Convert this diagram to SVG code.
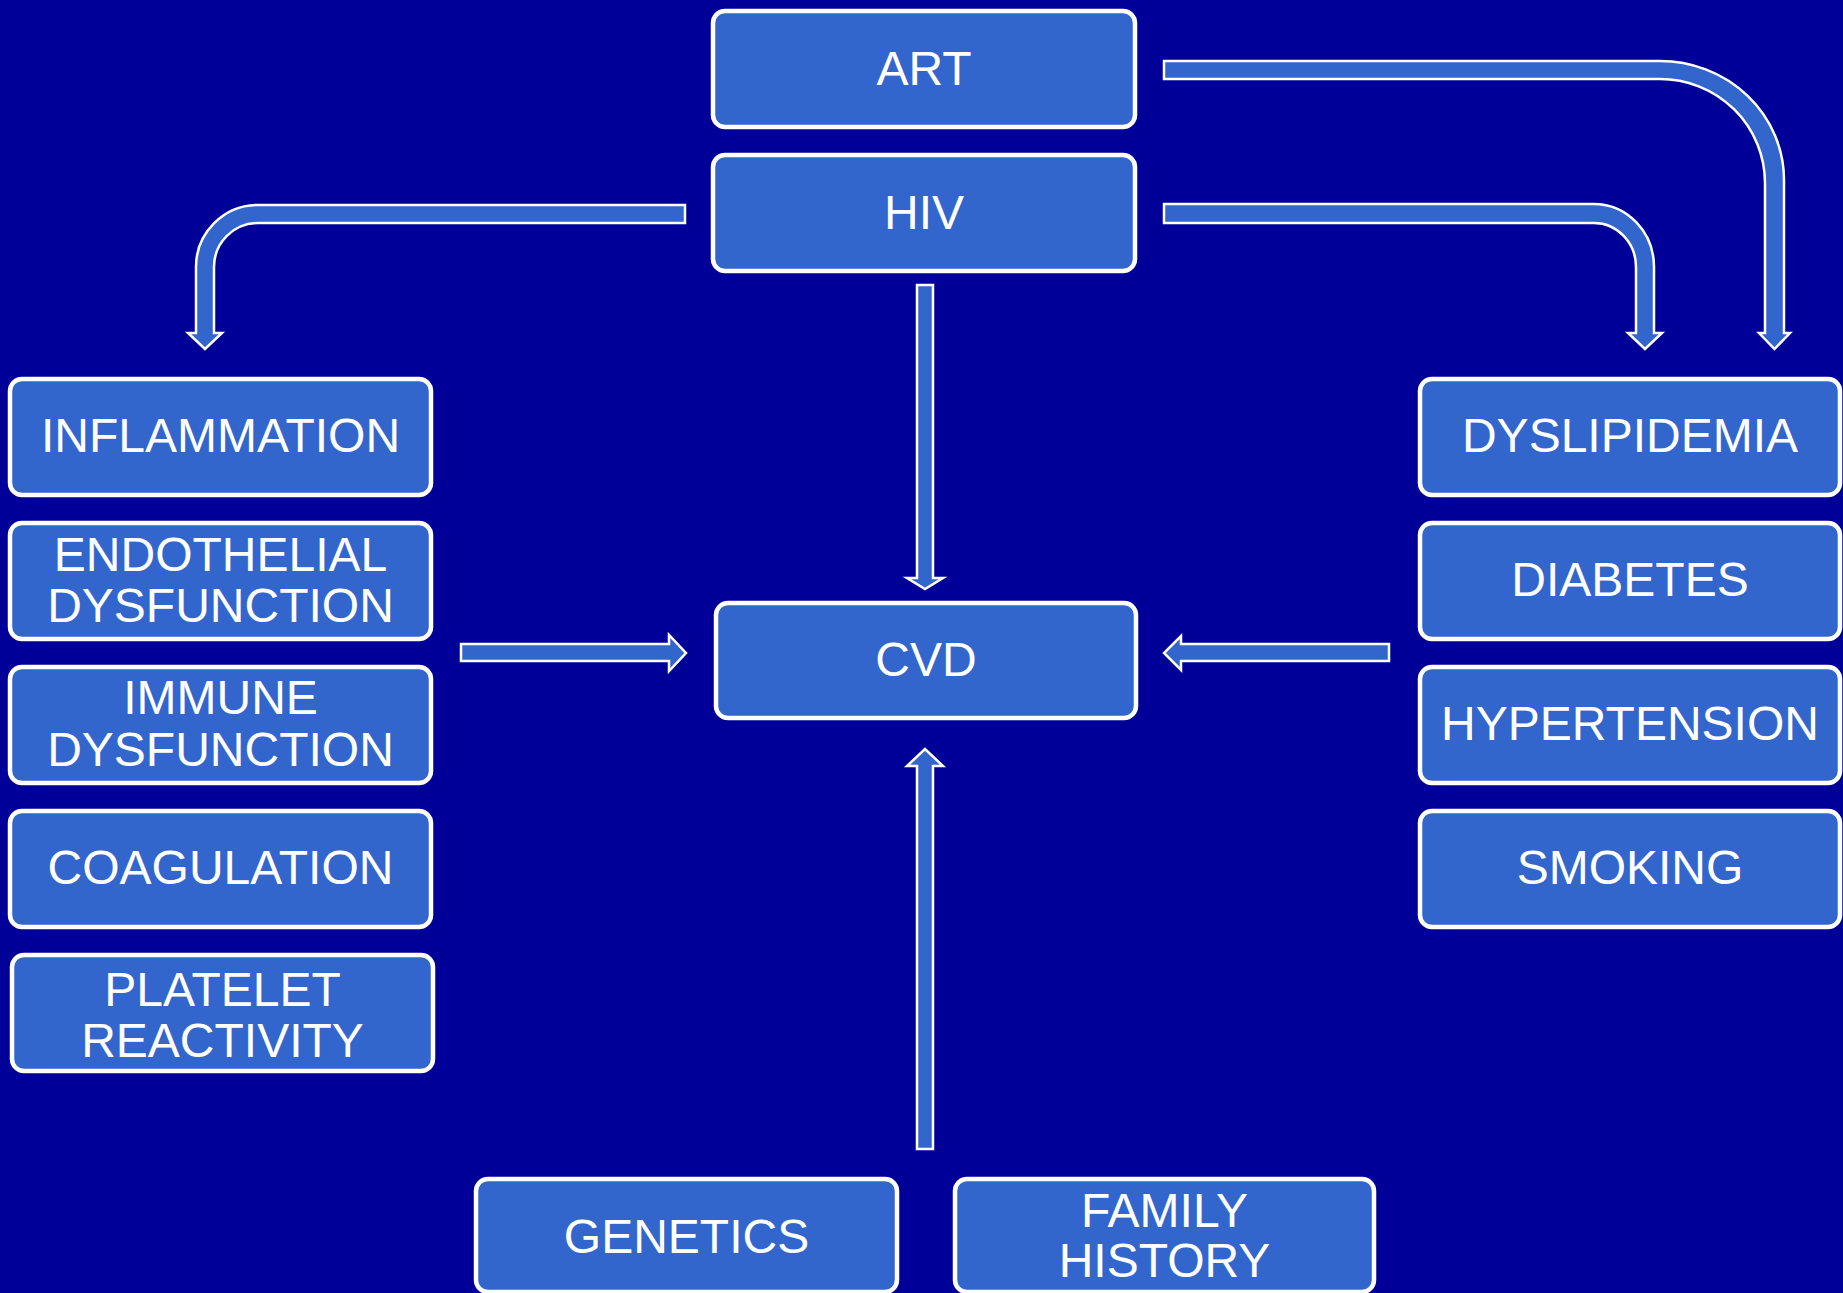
<svg xmlns="http://www.w3.org/2000/svg" width="1843" height="1293" viewBox="0 0 1843 1293">
<style>
.box{fill:#3366CC;stroke:#FFFFFF;stroke-width:4.5}
.lbl{fill:#FFFFFF;font-family:"Liberation Sans",Arial,sans-serif;font-size:48px;text-anchor:middle}
.arr{fill:#3366CC;stroke:#FFFFFF;stroke-width:2.5;stroke-linejoin:miter}
</style>
<rect x="0" y="0" width="1843" height="1293" fill="#000099"/>
<g id="connectors">
<path class="arr" d="M 685 205 L 258 205 A 62 62 0 0 0 196 267 L 196 333 L 188 333 L 205 349 L 222 333 L 214 333 L 214 267 A 44 44 0 0 1 258 223 L 685 223 Z"/>
<path class="arr" d="M 1164 204 L 1594 204 A 60 63 0 0 1 1654 267 L 1654 333 L 1662 333 L 1645 349 L 1628 333 L 1636 333 L 1636 267 A 42 44 0 0 0 1594 223 L 1164 223 Z"/>
<path class="arr" d="M 1164 61 L 1660 61 A 124 119 0 0 1 1784 180 L 1784 333 L 1790 333 L 1774.5 349 L 1759 333 L 1765 333 L 1765 183 A 105 104 0 0 0 1660 79 L 1164 79 Z"/>
<path class="arr" d="M 917 285 L 933 285 L 933 578 L 943 578 L 925 589 L 907 578 L 917 578 Z"/>
<path class="arr" d="M 917 1149 L 933 1149 L 933 766 L 943 766 L 925 749 L 907 766 L 917 766 Z"/>
<path class="arr" d="M 461 644 L 669 644 L 669 635 L 686 653 L 669 671 L 669 661 L 461 661 Z"/>
<path class="arr" d="M 1389 644 L 1181 644 L 1181 636 L 1164 653 L 1181 670 L 1181 661 L 1389 661 Z"/>
</g>
<g id="art"><rect class="box" x="713" y="11" width="422" height="116" rx="12"/><text class="lbl" x="924" y="85">ART</text></g>
<g id="hiv"><rect class="box" x="713" y="155" width="422" height="116" rx="12"/><text class="lbl" x="924" y="229">HIV</text></g>
<g id="cvd"><rect class="box" x="716" y="603" width="420" height="115" rx="12"/><text class="lbl" x="926" y="676">CVD</text></g>
<g id="inflammation"><rect class="box" x="10" y="379" width="421" height="116" rx="12"/><text class="lbl" x="220.5" y="452">INFLAMMATION</text></g>
<g id="endothelial"><rect class="box" x="10" y="523" width="421" height="116" rx="12"/><text class="lbl" x="220.5" y="571">ENDOTHELIAL</text><text class="lbl" x="220.5" y="622">DYSFUNCTION</text></g>
<g id="immune"><rect class="box" x="10" y="667" width="421" height="116" rx="12"/><text class="lbl" x="220.5" y="714">IMMUNE</text><text class="lbl" x="220.5" y="766">DYSFUNCTION</text></g>
<g id="coagulation"><rect class="box" x="10" y="811" width="421" height="116" rx="12"/><text class="lbl" x="220.5" y="884">COAGULATION</text></g>
<g id="platelet"><rect class="box" x="12" y="955" width="421" height="116" rx="12"/><text class="lbl" x="222.5" y="1006">PLATELET</text><text class="lbl" x="222.5" y="1057">REACTIVITY</text></g>
<g id="dyslipidemia"><rect class="box" x="1420" y="379" width="420" height="116" rx="12"/><text class="lbl" x="1630" y="452">DYSLIPIDEMIA</text></g>
<g id="diabetes"><rect class="box" x="1420" y="523" width="420" height="116" rx="12"/><text class="lbl" x="1630" y="596">DIABETES</text></g>
<g id="hypertension"><rect class="box" x="1420" y="667" width="420" height="116" rx="12"/><text class="lbl" x="1630" y="740">HYPERTENSION</text></g>
<g id="smoking"><rect class="box" x="1420" y="811" width="420" height="116" rx="12"/><text class="lbl" x="1630" y="884">SMOKING</text></g>
<g id="genetics"><rect class="box" x="476" y="1179" width="421" height="113" rx="12"/><text class="lbl" x="686.5" y="1253">GENETICS</text></g>
<g id="family-history"><rect class="box" x="955" y="1179" width="419" height="113" rx="12"/><text class="lbl" x="1164.5" y="1227">FAMILY</text><text class="lbl" x="1164.5" y="1277">HISTORY</text></g>
</svg>
